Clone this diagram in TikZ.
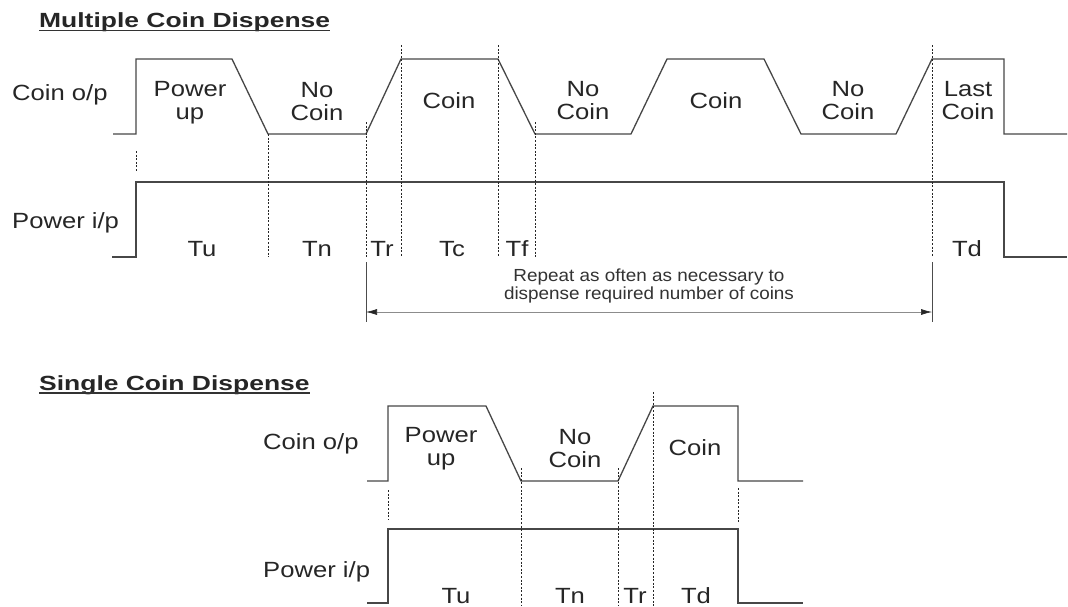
\documentclass[tikz,border=0pt]{standalone}
\usepackage{fontspec}
\setmainfont{Liberation Sans}
\newfontfamily\lblfont{Liberation Sans}[FakeStretch=1.165]
\newfontfamily\ttlfont{Liberation Sans}[FakeStretch=1.29]
\newfontfamily\smfont{Liberation Sans}[FakeStretch=1.08]
\usetikzlibrary{arrows.meta}
\tikzset{
  wave/.style={line width=1.3pt, draw=black!72, line join=miter},
  guide/.style={line width=1pt, draw=black!85, dash pattern=on 2pt off 1.6pt},
  bar/.style={line width=1pt, draw=black!70},
  dimline/.style={line width=0.6pt, draw=black!45, {Latex[length=11pt,width=6pt,color=black!85]}-{Latex[length=11pt,width=6pt,color=black!85]}},
  lbl/.style={font=\lblfont\fontsize{22}{23}\selectfont, text=black!85, inner sep=0pt, align=center},
  ttl/.style={font=\ttlfont\bfseries\fontsize{20.5}{22}\selectfont, text=black!85, inner sep=0pt},
  note/.style={font=\smfont\fontsize{17.5}{17.5}\selectfont, text=black!80, inner sep=0pt, align=center},
  uline/.style={line width=1.5pt, draw=black!80}
}
\begin{document}
\begin{tikzpicture}[x=1pt,y=-1pt]
\useasboundingbox (0,0) rectangle (1068,606);
\fill[white] (0,0) rectangle (1068,606);

% ---------- Multiple coin dispense ----------
\node[ttl, anchor=base west] (t1) at (39,27.3) {Multiple Coin Dispense};
\draw[uline] ([yshift=-3pt]t1.base west) -- ([yshift=-3pt]t1.base east);

\node[lbl, anchor=base west] (mco) at (12,100) {Coin o/p};
\node[lbl, anchor=base west] (mpi) at (12,228) {Power i/p};

\draw[wave] (113,134) -- (136,134) -- (136,59) -- (232,59) -- (268,134) -- (366,134)
  -- (401,59) -- (498,59) -- (535,134) -- (631,134) -- (667,59) -- (764,59)
  -- (801,134) -- (896,134) -- (932,59) -- (1004,59) -- (1004,134) -- (1067,134);
\draw[wave] (112,257) -- (136,257) -- (136,182) -- (1004,182) -- (1004,257) -- (1067,257);

\draw[guide] (136,151) -- (136,172);
\draw[guide] (268,134) -- (268,257);
\draw[guide] (366,122) -- (366,257);
\draw[guide] (401,45) -- (401,257);
\draw[guide] (498,45) -- (498,257);
\draw[guide] (535,122) -- (535,257);
\draw[guide] (932,45) -- (932,257);

\coordinate (ba1) at (366,262); \coordinate (bb1) at (366,322);
\coordinate (ba2) at (932,262); \coordinate (bb2) at (932,322);
\draw[bar] (ba1) -- (bb1);
\draw[bar] (ba2) -- (bb2);
\coordinate (al) at (366,312); \coordinate (ar) at (932,312);
\draw[dimline] (al) -- (ar);
\node[note, anchor=base] (rep) at (649,299) {Repeat as often as necessary to\\dispense required number of coins};

\node[lbl, anchor=base] (m1) at (190,119) {Power\\up};
\node[lbl, anchor=base] (m2) at (317,120) {No\\Coin};
\node[lbl, anchor=base] (m3) at (449,108) {Coin};
\node[lbl, anchor=base] (m4) at (583,119) {No\\Coin};
\node[lbl, anchor=base] (m5) at (716,108) {Coin};
\node[lbl, anchor=base] (m6) at (848,119) {No\\Coin};
\node[lbl, anchor=base] (m7) at (968,119) {Last\\Coin};

\node[lbl, anchor=base] (mtu) at (202,256) {Tu};
\node[lbl, anchor=base] (mtn) at (317,256) {Tn};
\node[lbl, anchor=base] (mtr) at (382,256) {Tr};
\node[lbl, anchor=base] (mtc) at (452,256) {Tc};
\node[lbl, anchor=base] (mtf) at (517,256) {Tf};
\node[lbl, anchor=base] (mtd) at (967,256) {Td};

% ---------- Single coin dispense ----------
\node[ttl, anchor=base west] (t2) at (39,390) {Single Coin Dispense};
\draw[uline] ([yshift=-3pt]t2.base west) -- ([yshift=-3pt]t2.base east);

\node[lbl, anchor=base west] (sco) at (263,449) {Coin o/p};
\node[lbl, anchor=base west] (spi) at (263,577) {Power i/p};

\draw[wave] (367,481) -- (388,481) -- (388,406) -- (486,406) -- (521,481) -- (618,481)
  -- (653,406) -- (738,406) -- (738,481) -- (803,481);
\draw[wave] (367,603) -- (388,603) -- (388,529) -- (738,529) -- (738,603) -- (803,603);

\draw[guide] (388,490) -- (388,519);
\draw[guide] (738,488) -- (738,522);
\draw[guide] (521,468) -- (521,606);
\draw[guide] (618,468) -- (618,606);
\draw[guide] (653,392) -- (653,606);

\node[lbl, anchor=base] (s1) at (441,465) {Power\\up};
\node[lbl, anchor=base] (s2) at (575,467) {No\\Coin};
\node[lbl, anchor=base] (s3) at (695,455) {Coin};

\node[lbl, anchor=base] (stu) at (456,603) {Tu};
\node[lbl, anchor=base] (stn) at (570,603) {Tn};
\node[lbl, anchor=base] (str) at (635,603) {Tr};
\node[lbl, anchor=base] (std) at (696,603) {Td};
\end{tikzpicture}
\end{document}
